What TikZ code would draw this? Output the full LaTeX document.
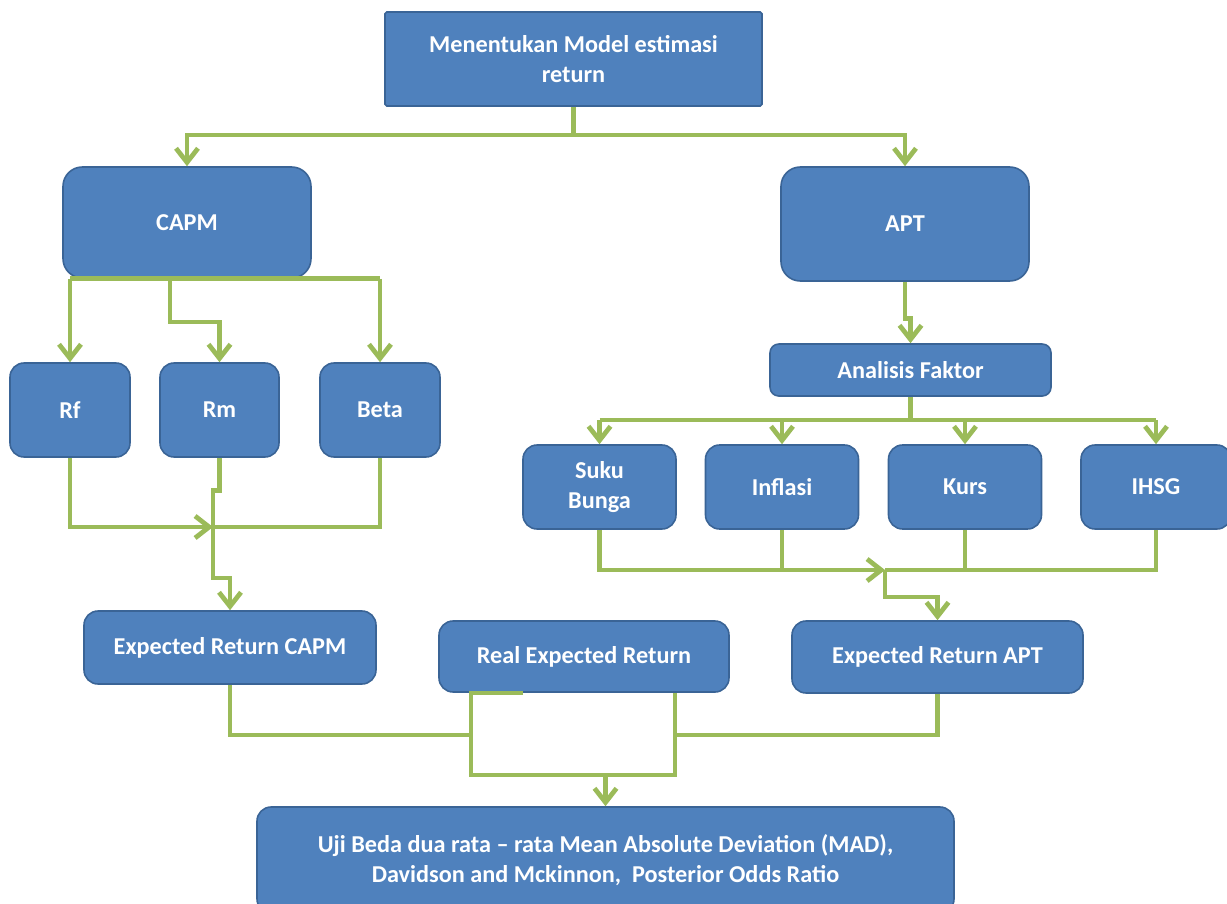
\documentclass[tikz,border=0pt]{standalone}
\usepackage{fontspec}
\setmainfont{Carlito}
\usetikzlibrary{arrows.meta}

\definecolor{boxblue}{HTML}{4F81BD}
\definecolor{boxedge}{HTML}{3A6496}
\definecolor{linkgreen}{HTML}{9BBB59}

\tikzset{
  box/.style = {draw=boxedge, line width=0.9pt, fill=boxblue, text=white,
    rounded corners=8pt, inner sep=0pt, align=center,
    font=\fontsize{13.8}{16.8}\selectfont\bfseries},
  boxsize/.style 2 args = {minimum width=#1*0.02cm, minimum height=#2*0.02cm},
  link/.style = {draw=linkgreen, line width=2.7pt},
  tolink/.style = {link, -{Straight Barb[length=8pt,width=12.5pt]}}
}

\begin{document}
\begin{tikzpicture}[x=0.02cm, y=-0.02cm]
  \useasboundingbox (0,0) rectangle (1227,903);

  \node [box, rounded corners=1pt, boxsize={377}{94}] (model) at (573.5,59) {Menentukan Model estimasi\\return};
  \node [box, rounded corners=11pt, boxsize={248}{111}] (capm) at (187,222.5) {CAPM};
  \node [box, rounded corners=11pt, boxsize={248}{114}] (apt) at (905,224) {APT};
  \node [box, rounded corners=5pt, boxsize={281}{52}] (faktor) at (910.5,370) {Analisis Faktor};

  \node [box, boxsize={120}{94}] (rf) at (70,410) {Rf};
  \node [box, boxsize={119}{94}] (rm) at (219.5,410) {Rm};
  \node [box, boxsize={120}{94}] (beta) at (380,410) {Beta};

  \node [box, boxsize={153}{84}] (suku) at (599.5,487) {Suku\\Bunga};
  \node [box, boxsize={153}{84}] (inflasi) at (782,487) {Inflasi};
  \node [box, boxsize={153}{84}] (kurs) at (965,487) {Kurs};
  \node [box, boxsize={150}{84}] (ihsg) at (1156,487) {IHSG};

  \node [box, boxsize={292}{73}] (ercapm) at (230,647.5) {Expected Return CAPM};
  \node [box, boxsize={290}{71}] (real) at (584,656.5) {Real Expected Return};
  \node [box, boxsize={291}{72}] (erapt) at (937.5,657) {Expected Return APT};
  \node [box, boxsize={697}{106}] (uji) at (605.5,860) {Uji Beda dua rata -- rata Mean Absolute Deviation (MAD),\\Davidson and Mckinnon,\ \ Posterior Odds Ratio};

  \coordinate (modelbar) at (573.5,135);
  \coordinate (rmkink) at (170,322);
  \coordinate (capmjoin) at (213,527);
  \coordinate (afbar) at (910.5,420);
  \coordinate (aptjoin) at (885,570);
  \coordinate (mergeL) at (471,693);
  \coordinate (mergeR) at (675,775);
  \coordinate (midrow) at (600,735);

  \draw [link] (model.south) -- (modelbar);
  \draw [tolink] (modelbar) -| (capm.north);
  \draw [tolink] (modelbar) -| (apt.north);

  \draw [link] (rf.north |- capm.south) -- (beta.north |- capm.south);
  \draw [tolink] (rf.north |- capm.south) -- (rf.north);
  \draw [tolink] (beta.north |- capm.south) -- (beta.north);
  \draw [tolink] (rmkink |- capm.south) |- (rm.north |- rmkink) -- (rm.north);

  \draw [tolink] (rf.south) |- (capmjoin);
  \draw [link] (beta.south) |- (capmjoin);
  \draw [tolink] (rm.south) -- ++(0,33) -| (capmjoin) -- ++(0,51) -| (ercapm.north);

  \draw [tolink] (apt.south) -- ++(0,37) -| (faktor.north);
  \draw [link] (faktor.south) -- (afbar);
  \draw [link] (suku.north |- afbar) -- (ihsg.north |- afbar);
  \foreach \f in {suku,inflasi,kurs,ihsg}
    \draw [tolink] (\f.north |- afbar) -- (\f.north);

  \draw [tolink] (suku.south) |- (aptjoin);
  \draw [link] (ihsg.south) |- (aptjoin);
  \draw [link] (inflasi.south) -- (inflasi.south |- aptjoin);
  \draw [link] (kurs.south) -- (kurs.south |- aptjoin);
  \draw [tolink] (aptjoin) -- ++(0,27) -| (erapt.north);

  \draw [link] ([xshift=52*0.02cm]mergeL) -- (mergeL) |- (mergeR) -- (mergeR |- mergeL);
  \draw [link] (ercapm.south) |- (mergeL |- midrow);
  \draw [link] (erapt.south) |- (mergeR |- midrow);
  \draw [tolink] (uji.north |- mergeR) -- (uji.north);
\end{tikzpicture}
\end{document}
